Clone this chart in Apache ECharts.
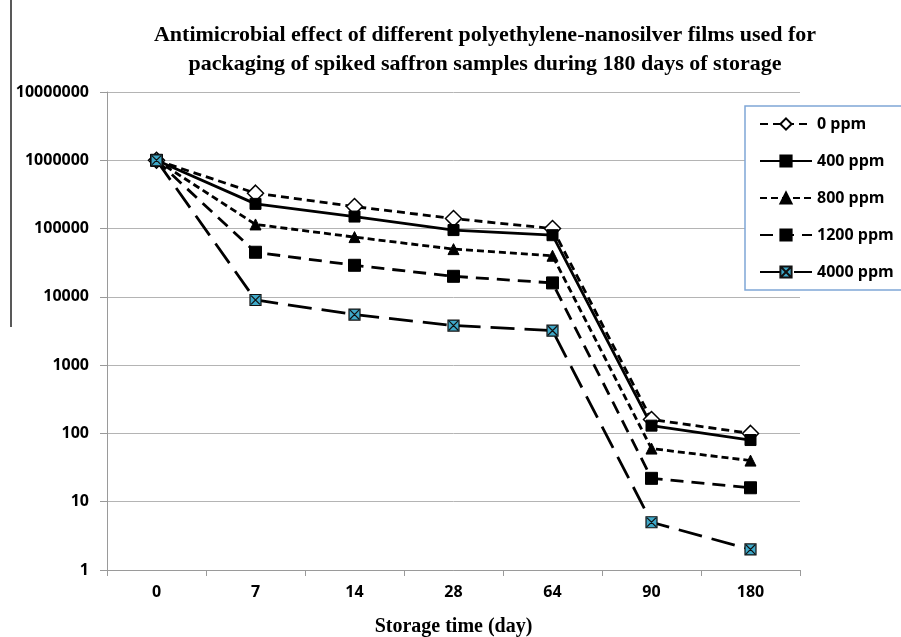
<!DOCTYPE html>
<html>
<head>
<meta charset="utf-8">
<script src="https://cdn.jsdelivr.net/npm/echarts@6/dist/echarts.min.js"></script>
<style>
  html, body { margin: 0; padding: 0; background: #fff; }
  #chart { width: 901px; height: 637px; }
</style>
</head>
<body>
<div id="chart"></div>
<script>
// storage days (category axis)
var days = ['0', '7', '14', '28', '64', '90', '180'];

// CFU counts, one array per film
var ppm0    = [1000000, 330000, 210000, 140000, 100000, 160, 100];
var ppm400  = [1000000, 230000, 150000, 95000, 80000, 130, 80];
var ppm800  = [1000000, 115000, 75000, 50000, 40000, 60, 40];
var ppm1200 = [1000000, 45000, 29000, 20000, 16000, 22, 16];
var ppm4000 = [1000000, 9000, 5500, 3800, 3200, 5, 2];

var seriesNames = ['0 ppm', '400 ppm', '800 ppm', '1200 ppm', '4000 ppm'];

var chart = echarts.init(document.getElementById('chart'));

var labelFont = '"Open Sans", "Liberation Sans", sans-serif';
var serifFont = '"Liberation Serif", "DejaVu Serif", serif';

// square with an X inside, for the 4000 ppm marker
var crossBox = 'path://M0 0 H10 V10 H0 Z M1 1 L9 9 M9 1 L1 9';

function makeLine(name, data, dash, symbol, size, itemStyle) {
    return {
        name: name,
        type: 'line',
        data: data,
        symbol: symbol,
        symbolSize: size,
        showAllSymbol: true,
        lineStyle: { color: '#000', width: 2.8, type: dash },
        itemStyle: itemStyle
    };
}

var option = {
    animation: false,
    backgroundColor: '#fff',
    title: {
        text: 'Antimicrobial effect of different polyethylene-nanosilver films used for\npackaging of spiked saffron samples during 180 days of storage',
        left: 480,
        top: 16,
        textAlign: 'center',
        textStyle: {
            fontFamily: serifFont,
            fontWeight: 'bold',
            fontSize: 22,
            lineHeight: 29,
            color: '#000'
        }
    },
    grid: { left: 107, right: 101, top: 92, bottom: 67, outerBoundsMode: 'none', containLabel: false },
    legend: {
        data: seriesNames,
        orient: 'vertical',
        left: 745,
        top: 106,
        width: 170,
        padding: [10, 20, 10, 14],
        itemGap: 21,
        itemWidth: 52,
        itemHeight: 14,
        backgroundColor: '#fff',
        borderColor: '#7fa6d6',
        borderWidth: 1.5,
        textStyle: {
            fontFamily: labelFont,
            fontWeight: 'bold',
            fontSize: 16,
            color: '#000'
        }
    },
    xAxis: {
        type: 'category',
        data: days,
        boundaryGap: true,
        name: 'Storage time (day)',
        nameLocation: 'middle',
        nameGap: 47,
        nameTextStyle: {
            fontFamily: serifFont,
            fontWeight: 'bold',
            fontSize: 20,
            color: '#000'
        },
        axisLine: { lineStyle: { color: '#9a9a9a', width: 1 } },
        axisTick: { show: true, length: 6, lineStyle: { color: '#9a9a9a' } },
        axisLabel: {
            margin: 14,
            fontFamily: labelFont,
            fontWeight: 'bold',
            fontSize: 16,
            color: '#000'
        }
    },
    yAxis: {
        type: 'log',
        logBase: 10,
        min: 1,
        max: 10000000,
        axisLine: { show: true, lineStyle: { color: '#9a9a9a', width: 1 } },
        axisTick: { show: true, length: 7, lineStyle: { color: '#9a9a9a' } },
        splitLine: { show: true, lineStyle: { color: '#b4b4b4', width: 1 } },
        axisLabel: {
            margin: 18,
            fontFamily: labelFont,
            fontWeight: 'bold',
            fontSize: 16,
            color: '#000',
            formatter: function (v) { return String(Math.round(v)); }
        }
    },
    series: [
        makeLine('0 ppm', ppm0, [8, 5], 'diamond', 16,
            { color: '#fff', borderColor: '#000', borderWidth: 1.5 }),
        makeLine('400 ppm', ppm400, 'solid', 'rect', 11,
            { color: '#000', borderColor: '#000', borderWidth: 1 }),
        makeLine('800 ppm', ppm800, [7, 4], 'triangle', 11,
            { color: '#000', borderColor: '#000', borderWidth: 1 }),
        makeLine('1200 ppm', ppm1200, [13, 8], 'rect', 12,
            { color: '#000', borderColor: '#000', borderWidth: 1 }),
        makeLine('4000 ppm', ppm4000, [24, 10], crossBox, 11,
            { color: '#3fa9c9', borderColor: '#111', borderWidth: 1.2 })
    ],
    graphic: [
        {
            type: 'line',
            shape: { x1: 11, y1: 0, x2: 11, y2: 327 },
            style: { stroke: '#222', lineWidth: 1.5 }
        }
    ]
};

chart.setOption(option);
</script>
</body>
</html>
